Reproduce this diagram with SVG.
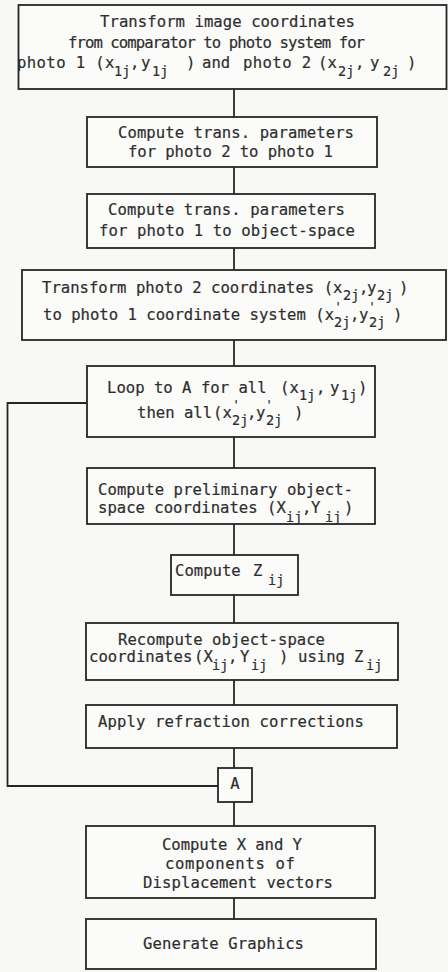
<svg xmlns="http://www.w3.org/2000/svg" width="448" height="972" viewBox="0 0 448 972">
<style>
.bg{fill:#f8f8f6}
.box{fill:#fbfbfa;stroke:#262626;stroke-width:1.8}
.ln{fill:none;stroke:#262626;stroke-width:1.8}
text{font-family:"DejaVu Sans Mono","Liberation Mono",monospace;font-size:15.6px;fill:#2e2e2e;stroke:#2e2e2e;stroke-width:0.2;letter-spacing:0}
.s{font-size:13.5px}
.p{font-size:12px}
.w{letter-spacing:0.4px}
</style>
<rect class="bg" x="0" y="0" width="448" height="972"/>
<g id="connectors">
<line class="ln" x1="234" y1="89" x2="234" y2="117"/>
<line class="ln" x1="234" y1="167" x2="234" y2="194"/>
<line class="ln" x1="234" y1="248" x2="234" y2="270"/>
<line class="ln" x1="234" y1="340" x2="234" y2="366"/>
<line class="ln" x1="234" y1="437" x2="234" y2="468"/>
<line class="ln" x1="234" y1="524" x2="234" y2="555"/>
<line class="ln" x1="234" y1="595" x2="234" y2="623"/>
<line class="ln" x1="234" y1="680" x2="234" y2="705"/>
<line class="ln" x1="234" y1="748" x2="234" y2="768"/>
<line class="ln" x1="234" y1="802" x2="234" y2="826"/>
<line class="ln" x1="234" y1="898" x2="234" y2="919"/>
<polyline class="ln" points="87,403 7.5,403 7.5,786 218,786"/>
</g>
<g id="n1">
<rect class="box" x="18.5" y="5" width="428" height="84"/>
<text x="100" y="27" textLength="255" lengthAdjust="spacing">Transform image coordinates</text>
<text x="68" y="48" textLength="297" lengthAdjust="spacing">from comparator to photo system for</text>
<text y="68"><tspan class="w" x="17">photo 1 (x</tspan><tspan class="s" x="114" y="76">1j</tspan><tspan x="130" y="68">,</tspan><tspan x="141">y</tspan><tspan class="s" x="152" y="76">1j</tspan><tspan x="186" y="68">)</tspan><tspan x="202">and</tspan><tspan class="w" x="243">photo 2</tspan><tspan x="318">(x</tspan><tspan class="s" x="338" y="76">2j</tspan><tspan x="355" y="68">,</tspan><tspan x="370">y</tspan><tspan class="s" x="383" y="76">2j</tspan><tspan x="407" y="68">)</tspan></text>
</g>
<g id="n2">
<rect class="box" x="87" y="117" width="290" height="50"/>
<text x="118" y="138" textLength="236" lengthAdjust="spacing">Compute trans. parameters</text>
<text x="128" y="157" textLength="205" lengthAdjust="spacing">for photo 2 to photo 1</text>
</g>
<g id="n3">
<rect class="box" x="87" y="194" width="288" height="54"/>
<text x="108" y="215" textLength="237" lengthAdjust="spacing">Compute trans. parameters</text>
<text x="99" y="236" textLength="256" lengthAdjust="spacing">for photo 1 to object-space</text>
</g>
<g id="n4">
<rect class="box" x="22" y="270" width="424" height="70"/>
<text y="293"><tspan x="42">Transform photo 2 coordinates (x</tspan><tspan class="s" x="343" y="300">2j</tspan><tspan x="359" y="293">,</tspan><tspan x="367">y</tspan><tspan class="s" x="377" y="300">2j</tspan><tspan x="399" y="293">)</tspan></text>
<text y="320"><tspan x="43">to photo 1 coordinate system (x</tspan><tspan class="p" x="334.5" y="311">'</tspan><tspan class="s" x="334" y="327">2j</tspan><tspan x="350" y="320">,</tspan><tspan x="359">y</tspan><tspan class="p" x="368.5" y="311">'</tspan><tspan class="s" x="369" y="327">2j</tspan><tspan x="393" y="320">)</tspan></text>
</g>
<g id="n5">
<rect class="box" x="87" y="366" width="288" height="71"/>
<text y="393"><tspan x="107">Loop to A for all</tspan><tspan x="280">(x</tspan><tspan class="s" x="299" y="400">1j</tspan><tspan x="316" y="393">,</tspan><tspan x="330">y</tspan><tspan class="s" x="341" y="400">1j</tspan><tspan x="358" y="393">)</tspan></text>
<text y="418"><tspan x="137">then all</tspan><tspan x="213">(x</tspan><tspan class="p" x="232.5" y="409">'</tspan><tspan class="s" x="232" y="425">2j</tspan><tspan x="247" y="418">,</tspan><tspan x="256">y</tspan><tspan class="p" x="265.5" y="409">'</tspan><tspan class="s" x="266" y="425">2j</tspan><tspan x="294" y="418">)</tspan></text>
</g>
<g id="n6">
<rect class="box" x="87" y="468" width="288" height="56"/>
<text x="98" y="495" textLength="255" lengthAdjust="spacing">Compute preliminary object-</text>
<text y="513"><tspan x="98">space coordinates (X</tspan><tspan class="s" x="286" y="522">ij</tspan><tspan x="302" y="513">,</tspan><tspan x="311">Y</tspan><tspan class="s" x="325" y="522">ij</tspan><tspan x="344" y="513">)</tspan></text>
</g>
<g id="n7">
<rect class="box" x="171" y="555" width="127" height="40"/>
<text y="576"><tspan x="175">Compute</tspan><tspan x="253">Z</tspan><tspan class="s" x="268" y="585">ij</tspan></text>
</g>
<g id="n8">
<rect class="box" x="86" y="623" width="312" height="57"/>
<text x="118" y="645" textLength="207" lengthAdjust="spacing">Recompute object-space</text>
<text y="662"><tspan x="89">coordinates</tspan><tspan x="194">(X</tspan><tspan class="s" x="212" y="670">ij</tspan><tspan x="228" y="662">,</tspan><tspan x="240">Y</tspan><tspan class="s" x="251" y="670">ij</tspan><tspan x="279" y="662">)</tspan><tspan x="298">using</tspan><tspan x="354">Z</tspan><tspan class="s" x="366" y="670">ij</tspan></text>
</g>
<g id="n9">
<rect class="box" x="86" y="705" width="311" height="43"/>
<text x="98" y="727" textLength="266" lengthAdjust="spacing">Apply refraction corrections</text>
</g>
<g id="nA">
<rect class="box" x="218" y="768" width="34" height="34"/>
<text x="235" y="789" text-anchor="middle">A</text>
</g>
<g id="n10">
<rect class="box" x="86" y="826" width="289" height="72"/>
<text x="162" y="850" textLength="140" lengthAdjust="spacing">Compute X and Y</text>
<text x="165" y="869" textLength="130" lengthAdjust="spacing">components of</text>
<text x="143" y="888" textLength="190" lengthAdjust="spacing">Displacement vectors</text>
</g>
<g id="n11">
<rect class="box" x="86" y="919" width="290" height="50"/>
<text x="143" y="949" textLength="161" lengthAdjust="spacing">Generate Graphics</text>
</g>
</svg>
